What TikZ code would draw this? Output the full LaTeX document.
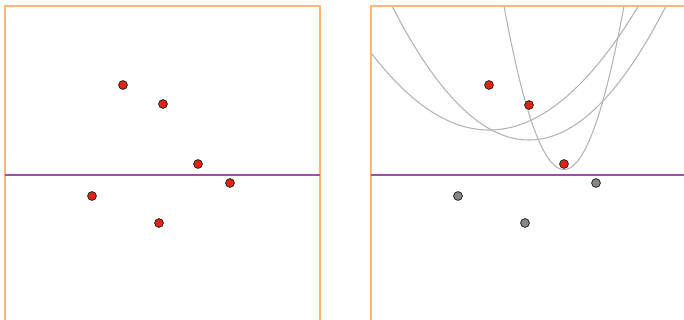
\documentclass[tikz,border=0pt]{standalone}
\usepackage{tikz}
\usetikzlibrary{calc}
\definecolor{FrameOrange}{RGB}{255,182,125}
\definecolor{SweepPurple}{RGB}{165,75,175}
\definecolor{SiteRed}{RGB}{225,35,20}
\definecolor{DoneGray}{RGB}{135,135,135}
\tikzset{
    frame/.style={draw=FrameOrange, line width=1.3pt},
    sweep/.style={draw=SweepPurple, line width=2.5pt},
    site/.style={circle, draw=black!85, fill=SiteRed, line width=0.7pt, minimum size=7.5pt, inner sep=0pt},
    oldsite/.style={site, fill=DoneGray},
    beach/.style={draw=gray!60, line width=0.9pt, samples=120, smooth},
}

\begin{document}
\begin{tikzpicture}[x=0.03cm, y=-0.03cm]
\useasboundingbox (0,0) rectangle (684,320);

% beach line parabolas (right panel), \x is the offset from the focus in tens of px
\begin{scope}
\clip (371,6) rectangle (684,320);
\draw[beach, domain=-12:17.5] plot ({489+10*\x}, {(175+85)/2 - \x*\x/(2*(175-85))*100});
\draw[beach, domain=-16:16] plot ({529+10*\x}, {(175+105)/2 - \x*\x/(2*(175-105))*100});
\draw[beach, domain=-6.8:6.8] plot ({564+10*\x}, {(175+164)/2 - \x*\x/(2*(175-164))*100});
\end{scope}

% frames
\draw[frame] (5,320) -- (5,6) -- (320,6) -- (320,320);
\draw[frame] (371,320) -- (371,6) -- (684,6);

% sweep lines
\draw[sweep] (5,175) -- (320,175);
\draw[sweep] (371,175) -- (684,175);

% sites, left panel
\node[site] (la) at (123,85) {};
\node[site] (lb) at (163,104) {};
\node[site] (lc) at (198,164) {};
\node[site] (ld) at (230,183) {};
\node[site] (le) at (92,196) {};
\node[site] (lf) at (159,223) {};

% sites, right panel
\node[site] (ra) at (489,85) {};
\node[site] (rb) at (529,105) {};
\node[site] (rc) at (564,164) {};
\node[oldsite] (rd) at (596,183) {};
\node[oldsite] (re) at (458,196) {};
\node[oldsite] (rf) at (525,223) {};
\end{tikzpicture}
\end{document}
